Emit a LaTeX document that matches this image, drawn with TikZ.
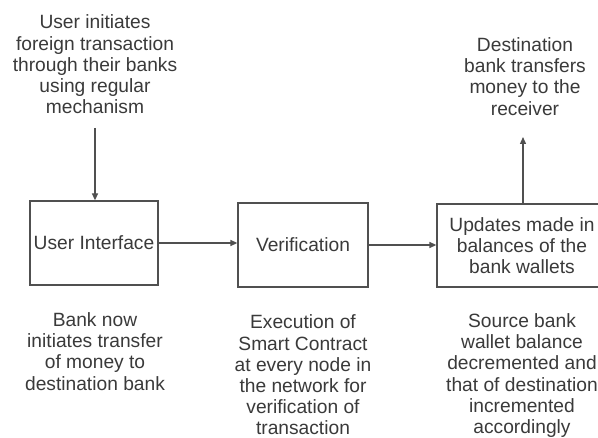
\documentclass[tikz,border=0pt]{standalone}
\usepackage{fontspec}
\setmainfont{Liberation Sans}
\usetikzlibrary{arrows.meta}
\definecolor{txt}{HTML}{3A3A3A}
\definecolor{ln}{HTML}{505050}
\begin{document}
\begin{tikzpicture}[x=1pt,y=-1pt,
  every node/.style={font=\fontsize{19.2}{21.2}\selectfont, text=txt},
  label/.style={align=center, inner sep=0pt},
  stepbox/.style={draw=ln, line width=1.3pt, inner sep=0pt, align=center},
  conn/.style={draw=ln, line width=1.3pt, -{Triangle[length=7pt,width=6pt]}}]
\useasboundingbox (0,0) rectangle (598,438);
\clip (0,0) rectangle (598,438);
\fill[white] (0,0) rectangle (598,438);
\node[label] (start) at (95,64.5) {User initiates\\foreign transaction\\through their banks\\using regular\\mechanism};
\node[label] (dest) at (525,76.5) {Destination\\bank transfers\\money to the\\receiver};
\node[stepbox, minimum width=128pt, minimum height=84pt] (ui) at (94,243) {User Interface};
\node[stepbox, minimum width=130pt, minimum height=84pt] (ver) at (303,245) {Verification};
\node[stepbox, minimum width=170pt, minimum height=83pt] (upd) at (522,245.5) {Updates made in\\balances of the\\bank wallets};
\node[label] (n1) at (95,351.5) {Bank now\\initiates transfer\\of money to\\destination bank};
\node[label] (n2) at (303,375) {Execution of\\Smart Contract\\at every node in\\the network for\\verification of\\transaction};
\node[label] (n3) at (522,375.5) {Source bank\\wallet balance\\decremented and\\that of destination\\incremented\\accordingly};
\coordinate (s0) at (95,128);
\coordinate (d0) at (523,137);
\draw[conn] (s0) -- (s0 |- ui.north);
\draw[conn] (ui.east) -- (ui.east -| ver.west);
\draw[conn] (ver.east) -- (ver.east -| upd.west);
\draw[conn] (d0 |- upd.north) -- (d0);
\end{tikzpicture}
\end{document}
